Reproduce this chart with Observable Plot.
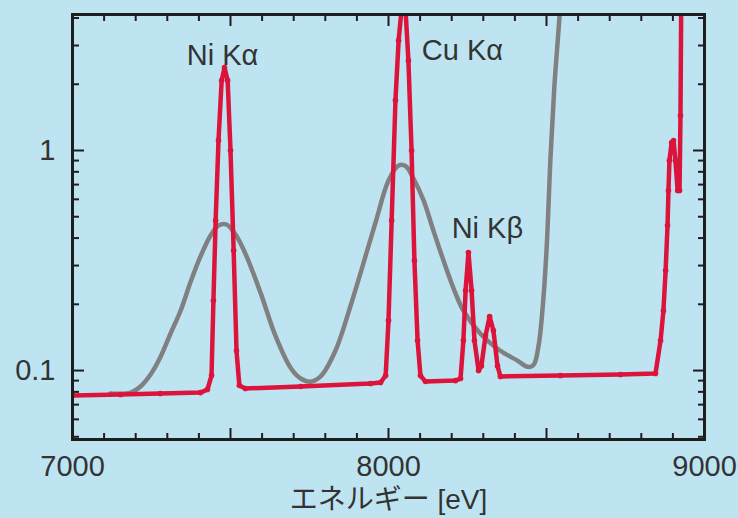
<!DOCTYPE html>
<html><head><meta charset="utf-8">
<script src="https://cdn.jsdelivr.net/npm/d3@7"></script>
<script src="https://cdn.jsdelivr.net/npm/@observablehq/plot@0.6"></script>
<style>
html,body{margin:0;padding:0;background:#bee4f2;}
#chart{width:738px;height:518px;overflow:hidden;}
</style></head><body><div id="chart"></div>
<script>
// High-resolution spectrum (red)
const redEnergy = [7000,7152,7278,7405,7427,7440,7446,7453,7462,7472,7481,7491,7500,7510,7519,7528,7547,7722,7943,7975,7991,8000,8010,8022,8032,8041,8047,8054,8063,8073,8082,8092,8101,8117,8212,8228,8237,8244,8253,8263,8272,8285,8294,8307,8320,8332,8345,8354,8544,8734,8845,8861,8870,8877,8883,8886,8889,8896,8902,8908,8915,8921,8924,8927];
const redIntensity = [0.0770,0.0778,0.0786,0.0794,0.0820,0.0949,0.208,0.481,1.11,2.08,2.38,2.08,1.0,0.351,0.123,0.0855,0.0829,0.0846,0.0873,0.0882,0.0949,0.169,0.481,1.69,3.16,4.33,5.9,4.33,2.56,1.0,0.316,0.137,0.0949,0.0891,0.090,0.092,0.137,0.231,0.344,0.231,0.137,0.100,0.105,0.144,0.176,0.152,0.105,0.094,0.095,0.096,0.097,0.137,0.187,0.285,0.456,0.658,0.90,1.087,1.11,0.90,0.658,0.658,1.44,6.6];
// Low-resolution spectrum (gray)
const grayEnergy = [7120,7184,7215,7247,7278,7310,7342,7373,7405,7437,7462,7487,7516,7547,7595,7642,7690,7722,7753,7785,7832,7880,7911,7959,8000,8032,8054,8079,8111,8142,8174,8206,8237,8291,8354,8408,8440,8459,8475,8487,8500,8513,8525,8538,8547,8554];
const grayIntensity = [0.0786,0.0794,0.0846,0.096,0.115,0.147,0.187,0.251,0.330,0.411,0.456,0.461,0.415,0.340,0.226,0.144,0.103,0.092,0.089,0.094,0.123,0.197,0.276,0.471,0.73,0.855,0.85,0.746,0.593,0.433,0.316,0.236,0.187,0.147,0.123,0.111,0.104,0.106,0.130,0.187,0.351,0.95,1.97,3.51,5.3,7.3];
// Peak labels
const peakNames = ["Ni K\u03b1","Cu K\u03b1","Ni K\u03b2"];
const peakLabelEnergy = [7475,8234,8313];
const peakLabelIntensity = [2.70,2.85,0.442];
// Ticks
const xLabelTicks = [7000,8000,9000];
const xLongTicks = [7000,7500,8000,8500,9000];
const xShortTicks = [7100,7200,7300,7400,7600,7700,7800,7900,8100,8200,8300,8400,8600,8700,8800,8900];
const yLabelTicks = [0.1,1];
const yShortTicks = [0.05,0.06,0.07,0.08,0.09,0.2,0.3,0.4,0.5,0.6,0.7,0.8,0.9,2,3,4];
const xTitle = "エネルギー [eV]";

const red = redEnergy.map((e,i)=>({e, v: redIntensity[i]}));
const gray = grayEnergy.map((e,i)=>({e, v: grayIntensity[i]}));
const labels = peakNames.map((name,i)=>({name, e: peakLabelEnergy[i], v: peakLabelIntensity[i]}));

const ink = "#1e1e1e";
const txt = "#333";
const tickCommon = {fill:"none", label:null, stroke:ink, strokeWidth:2};

const chart = Plot.plot({
  width:738, height:518,
  marginLeft:72, marginRight:34, marginTop:14, marginBottom:79,
  style:{background:"#bee4f2", fontFamily:"'Liberation Sans', 'Noto Sans CJK JP', sans-serif", color:txt, overflow:"visible"},
  x:{domain:[7000,9000], axis:null},
  y:{type:"log", domain:[0.0486,4.15], axis:null},
  marks:[
    Plot.line(gray, {x:"e", y:"v", stroke:"#808080", strokeWidth:4.5, curve:"catmull-rom", clip:true}),
    Plot.line(red, {x:"e", y:"v", stroke:"#dc143c", strokeWidth:4.5, strokeLinejoin:"round", clip:true}),
    Plot.dot(red, {x:"e", y:"v", r:2.8, fill:"#dc143c", clip:true}),
    Plot.text(labels, {x:"e", y:"v", text:"name", fontSize:29, fill:txt}),
    // x ticks bottom & top (inward)
    Plot.axisX(xShortTicks, {...tickCommon, anchor:"bottom", tickSize:-6}),
    Plot.axisX(xLongTicks, {...tickCommon, anchor:"bottom", tickSize:-11}),
    Plot.axisX(xShortTicks, {...tickCommon, anchor:"top", tickSize:-6}),
    Plot.axisX(xLongTicks, {...tickCommon, anchor:"top", tickSize:-11}),
    // y ticks left & right (inward)
    Plot.axisY(yShortTicks, {...tickCommon, anchor:"left", tickSize:-7}),
    Plot.axisY(yLabelTicks, {...tickCommon, anchor:"left", tickSize:-12}),
    Plot.axisY(yShortTicks, {...tickCommon, anchor:"right", tickSize:-7}),
    Plot.axisY(yLabelTicks, {...tickCommon, anchor:"right", tickSize:-12}),
    // tick labels
    Plot.axisX(xLabelTicks, {anchor:"bottom", tickSize:0, tickPadding:16, fontSize:29, label:null, fill:txt, tickFormat:d=>String(d)}),
    Plot.axisY(yLabelTicks, {anchor:"left", tickSize:0, tickPadding:17, fontSize:29, label:null, fill:txt, tickFormat:d=>String(d)}),
    Plot.text([xTitle], {frameAnchor:"bottom", dy:69, fontSize:28, fill:txt, text:d=>d}),
    Plot.frame({stroke:ink, strokeWidth:3})
  ]
});
document.getElementById("chart").appendChild(chart);
</script></body></html>
